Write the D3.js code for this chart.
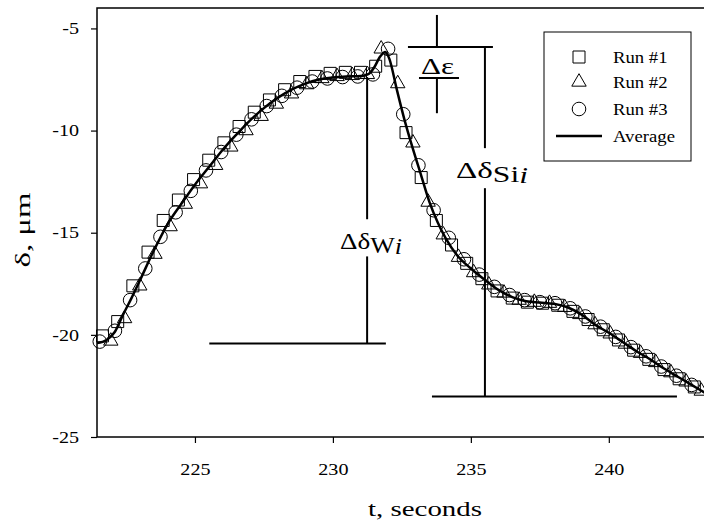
<!DOCTYPE html>
<html>
<head>
<meta charset="utf-8">
<script src="https://cdn.jsdelivr.net/npm/d3@7"></script>
<style>
    body { margin: 0; background: #fff; }
    text { font-family: "Liberation Serif", "Times New Roman", serif; fill: #000; }
</style>
</head>
<body>
<svg id="chart" width="704" height="523"></svg>
<script>
// Run #1 (squares)
const run1T = [221.65, 222.20, 222.75, 223.30, 223.85, 224.40, 224.95, 225.50, 226.05, 226.60,
    227.15, 227.70, 228.25, 228.80, 229.35, 229.90, 230.45, 231.00, 231.55, 232.10,
    232.65, 233.20, 233.75, 234.30, 234.85, 235.40, 235.95, 236.50, 237.05, 237.60,
    238.15, 238.70, 239.25, 239.80, 240.35, 240.90, 241.45, 242.00, 242.55, 243.10];
const run1V = [-20.05, -19.35, -17.6, -15.95, -14.4, -13.4, -12.4, -11.45, -10.6, -9.8,
    -9.1, -8.5, -8.0, -7.6, -7.35, -7.2, -7.15, -7.15, -6.85, -6.55,
    -10.1, -12.3, -14.4, -15.6, -16.5, -17.25, -17.85, -18.2, -18.4, -18.45,
    -18.55, -18.85, -19.25, -19.75, -20.25, -20.75, -21.2, -21.7, -22.15, -22.55];

// Run #2 (triangles)
const run2T = [221.95, 222.45, 223.00, 223.55, 224.10, 224.65, 225.20, 225.75, 226.30, 226.85,
    227.40, 227.95, 228.50, 229.05, 229.60, 230.15, 230.70, 231.25, 231.75, 232.35,
    232.90, 233.45, 234.00, 234.55, 235.10, 235.65, 236.20, 236.75, 237.30, 237.85,
    238.40, 238.95, 239.50, 240.05, 240.60, 241.15, 241.70, 242.25, 242.80, 243.35];
const run2V = [-20.3, -19.2, -17.6, -16.05, -14.7, -13.6, -12.6, -11.7, -10.8, -10.0,
    -9.3, -8.7, -8.2, -7.75, -7.45, -7.35, -7.3, -7.25, -6.0, -7.7,
    -10.6, -13.5, -15.1, -16.2, -16.95, -17.55, -17.95, -18.3, -18.4, -18.45,
    -18.65, -19.0, -19.5, -19.95, -20.45, -20.9, -21.35, -21.85, -22.3, -22.75];

// Run #3 (circles)
const run3T = [221.55, 222.10, 222.65, 223.20, 223.75, 224.30, 224.85, 225.40, 225.95, 226.50,
    227.05, 227.60, 228.15, 228.70, 229.25, 229.80, 230.35, 230.90, 231.45, 232.00,
    232.55, 233.10, 233.65, 234.20, 234.75, 235.30, 235.85, 236.40, 236.95, 237.50,
    238.05, 238.60, 239.15, 239.70, 240.25, 240.80, 241.35, 241.90, 242.45, 243.00];
const run3V = [-20.33, -19.8, -18.3, -16.75, -15.2, -14.0, -12.95, -11.95, -11.05, -10.2,
    -9.45, -8.8, -8.3, -7.9, -7.6, -7.45, -7.38, -7.35, -7.25, -6.0,
    -9.2, -11.7, -13.9, -15.25, -16.3, -17.05, -17.65, -18.05, -18.3, -18.4,
    -18.45, -18.7, -19.1, -19.6, -20.1, -20.6, -21.05, -21.55, -22.0, -22.45];

// Average curve
const avgT = [221.45, 221.8, 222.1, 222.4, 222.7, 223.0, 223.5, 224.0, 224.5, 225.0,
    225.5, 226.0, 226.5, 227.0, 227.5, 228.0, 228.5, 229.0, 229.5, 230.0,
    230.5, 231.0, 231.3, 231.5, 231.7, 231.9, 232.05, 232.3, 232.6, 232.9,
    233.2, 233.5, 233.8, 234.1, 234.5, 235.0, 235.5, 236.0, 236.5, 237.0,
    237.5, 238.0, 238.5, 239.0, 239.5, 240.0, 240.5, 241.0, 241.5, 242.0,
    242.5, 243.0, 243.5];
const avgV = [-20.4, -20.25, -19.85, -19.0, -18.2, -17.35, -15.9, -14.6, -13.6, -12.65,
    -11.8, -10.95, -10.2, -9.5, -8.9, -8.4, -8.0, -7.7, -7.5, -7.4,
    -7.35, -7.33, -7.22, -6.9, -6.4, -6.15, -6.5, -7.9, -9.5, -10.9,
    -12.2, -13.5, -14.5, -15.3, -16.1, -16.75, -17.3, -17.8, -18.15, -18.35,
    -18.42, -18.48, -18.65, -19.0, -19.5, -19.9, -20.35, -20.8, -21.2, -21.65,
    -22.05, -22.45, -22.85];

const xTicks = [225, 230, 235, 240];
const yTicks = [-25, -20, -15, -10, -5];
const legendLabels = ["Run #1", "Run #2", "Run #3", "Average"];

const margin = { top: 8, right: 0, bottom: 86, left: 97 },
    width = 704 - margin.left - margin.right,
    height = 523 - margin.top - margin.bottom;

const svg = d3.select("#chart")
    .append("g")
    .attr("transform", "translate(" + margin.left + "," + margin.top + ")");

const x = d3.scaleLinear().domain([221.45, 243.45]).range([0, width]);
const y = d3.scaleLinear().domain([-25, -4]).range([height, 0]);

// stretch text horizontally (reference text is wider than tall)
const stretch = (sel, k) => {
    sel.each(function () {
        const w = this.getComputedTextLength();
        d3.select(this).attr("textLength", w * k).attr("lengthAdjust", "spacingAndGlyphs");
    });
};

// frame
svg.append("rect")
    .attr("x", 0).attr("y", 0)
    .attr("width", width + 10).attr("height", height)
    .attr("fill", "none").attr("stroke", "#000").attr("stroke-width", 1.5);

// axes
const xAxis = svg.append("g")
    .attr("transform", "translate(0," + height + ")")
    .call(d3.axisBottom(x).tickValues(xTicks).tickSize(6).tickPadding(20).tickFormat(d => String(d)));
const yAxis = svg.append("g")
    .call(d3.axisLeft(y).tickValues(yTicks).tickSize(6).tickPadding(12).tickFormat(d => String(d)));
[xAxis, yAxis].forEach(a => {
    a.select(".domain").remove();
    a.selectAll("line").attr("stroke-width", 1.2);
    a.selectAll("text").attr("font-size", "16.5px").attr("font-family", "Liberation Serif");
    stretch(a.selectAll("text"), 1.22);
});

// axis titles
const xt = svg.append("text")
    .attr("x", 328).attr("y", 508)
    .attr("text-anchor", "middle")
    .attr("font-size", "22px")
    .text("t, seconds");
xt.attr("textLength", 114).attr("lengthAdjust", "spacingAndGlyphs");

const yt = svg.append("text")
    .attr("transform", "translate(-67," + (230 - margin.top) + ") rotate(-90)")
    .attr("text-anchor", "middle")
    .attr("font-size", "22px")
    .text("δ, μm");
yt.attr("textLength", 75).attr("lengthAdjust", "spacingAndGlyphs");

// markers
const pts = (ts, vs) => ts.map((t, i) => ({ t: t, v: vs[i] }));
const mStyle = g => g.attr("fill", "none").attr("stroke", "#000").attr("stroke-width", 1);

svg.selectAll(".sq").data(pts(run1T, run1V)).enter().append("path")
    .attr("class", "sq")
    .attr("d", d3.symbol().type(d3.symbolSquare).size(144))
    .attr("transform", d => "translate(" + x(d.t) + "," + y(d.v) + ")")
    .call(mStyle);

svg.selectAll(".tri").data(pts(run2T, run2V)).enter().append("path")
    .attr("class", "tri")
    .attr("d", d3.symbol().type(d3.symbolTriangle).size(90))
    .attr("transform", d => "translate(" + x(d.t) + "," + y(d.v) + ")")
    .call(mStyle);

svg.selectAll(".circ").data(pts(run3T, run3V)).enter().append("circle")
    .attr("class", "circ")
    .attr("cx", d => x(d.t)).attr("cy", d => y(d.v)).attr("r", 6.8)
    .call(mStyle);

// average line
const line = d3.line().x(d => x(d.t)).y(d => y(d.v)).curve(d3.curveMonotoneX);
svg.append("path")
    .datum(pts(avgT, avgV))
    .attr("d", line)
    .attr("fill", "none").attr("stroke", "#000").attr("stroke-width", 2.5);

// annotation brackets
const seg = (t1, v1, t2, v2) => svg.append("line")
    .attr("x1", x(t1)).attr("y1", y(v1)).attr("x2", x(t2)).attr("y2", y(v2))
    .attr("stroke", "#000").attr("stroke-width", 2);

// delta delta W
seg(225.52, -20.42, 231.92, -20.42);
seg(231.24, -7.38, 231.24, -14.34);
seg(231.24, -16.16, 231.24, -20.42);
// delta delta Si
seg(233.59, -23.02, 242.47, -23.02);
seg(235.51, -5.96, 235.51, -10.86);
seg(235.51, -12.82, 235.51, -23.02);
// delta epsilon
seg(232.72, -5.91, 235.80, -5.91);
seg(233.77, -4.34, 233.77, -5.91);
seg(233.12, -7.43, 234.57, -7.43);
seg(233.77, -7.43, 233.77, -9.15);

const label = (px, py, len, parts) => {
    const t = svg.append("text")
        .attr("x", px - margin.left).attr("y", py - margin.top)
        .attr("font-size", "24px");
    parts.forEach(p => {
        const s = t.append("tspan").text(p.s);
        if (p.dy) s.attr("dy", p.dy);
        if (p.it) s.attr("font-style", "italic");
        if (p.fs) s.attr("font-size", p.fs);
    });
    t.attr("textLength", len).attr("lengthAdjust", "spacingAndGlyphs");
};
label(340, 249, 62, [{ s: "Δδ" }, { s: "W", dy: 4, fs: "23px" }, { s: "i", it: true, dy: 1, fs: "23px" }]);
label(456, 178, 72, [{ s: "Δδ" }, { s: "Si", dy: 4, fs: "23px" }, { s: "i", it: true, dy: 1, fs: "23px" }]);
label(421, 74, 33, [{ s: "Δε" }]);

// legend
const lg = svg.append("g").attr("transform", "translate(" + (544 - margin.left) + "," + (32 - margin.top) + ")");
lg.append("rect")
    .attr("width", 147).attr("height", 129)
    .attr("fill", "#fff").attr("stroke", "#000").attr("stroke-width", 1);
const rowY = [25, 50, 77, 104];
lg.append("path").attr("d", d3.symbol().type(d3.symbolSquare).size(144))
    .attr("transform", "translate(35," + rowY[0] + ")").call(mStyle);
lg.append("path").attr("d", d3.symbol().type(d3.symbolTriangle).size(90))
    .attr("transform", "translate(35," + rowY[1] + ")").call(mStyle);
lg.append("circle").attr("cx", 35).attr("cy", rowY[2]).attr("r", 6.8).call(mStyle);
lg.append("line").attr("x1", 12).attr("x2", 58).attr("y1", rowY[3]).attr("y2", rowY[3])
    .attr("stroke", "#000").attr("stroke-width", 2.5);
const lt = lg.selectAll(".lt").data(legendLabels).enter().append("text")
    .attr("class", "lt")
    .attr("x", 69).attr("y", (d, i) => rowY[i] + 6)
    .attr("font-size", "17px")
    .text(d => d);
stretch(lt, 1.1);
</script>
</body>
</html>
